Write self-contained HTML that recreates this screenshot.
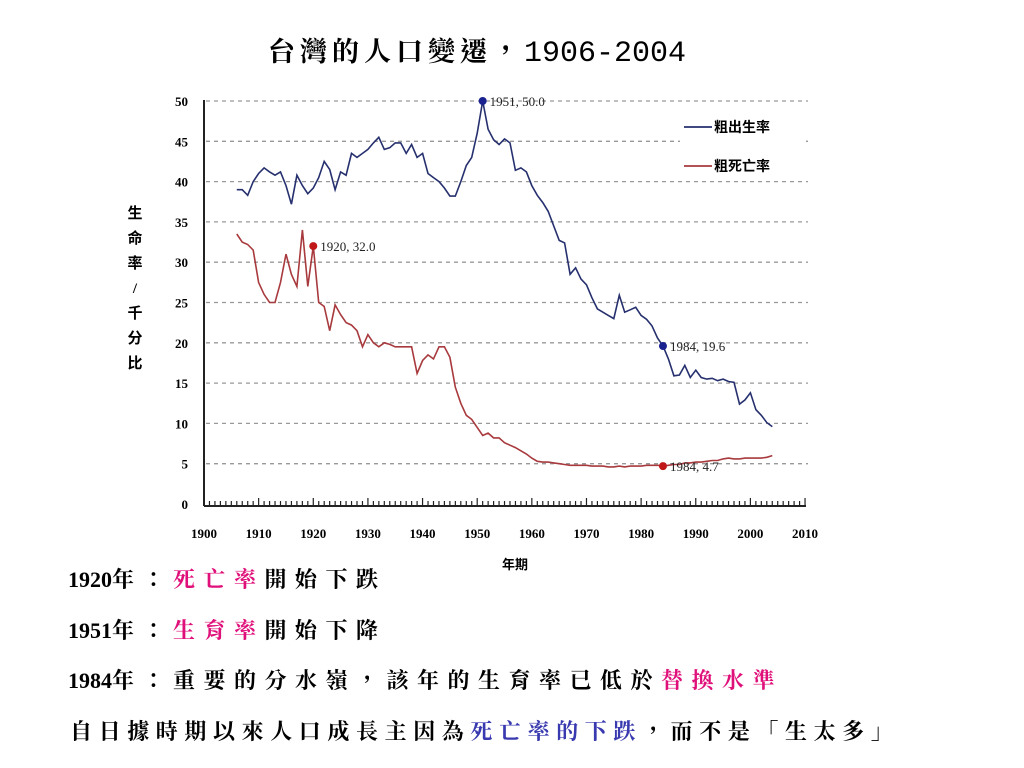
<!DOCTYPE html>
<html><head><meta charset="utf-8"><style>
body{margin:0;width:1024px;height:768px;background:#fff;overflow:hidden;position:relative;font-family:"Liberation Serif","Noto Serif CJK SC",serif}
.t{position:absolute;font-size:22px;color:#000;white-space:nowrap;letter-spacing:8.5px;font-weight:bold;font-family:"Liberation Serif","Noto Serif CJK TC","Noto Serif CJK SC",serif}
.t b{letter-spacing:0;font-size:22px}
.pk{color:#e0107a}.bl{color:#3a3ab0}
</style></head><body>
<div style="position:absolute;left:268px;top:30px;white-space:nowrap;font-size:27px;font-weight:bold;font-family:'Noto Serif CJK TC','Noto Serif CJK SC',serif;letter-spacing:5px">台灣的人口變遷，<span style="font-family:'Liberation Mono',monospace;font-size:30px;letter-spacing:0;font-weight:normal">1906-2004</span></div>
<svg id="ch" width="1024" height="768" style="position:absolute;left:0;top:0" font-family="Liberation Serif, Noto Sans CJK SC, serif"></svg>
<div class="t" style="left:68px;top:563px"><b>1920</b>年：<span class="pk">死亡率</span>開始下跌</div>
<div class="t" style="left:68px;top:614px"><b>1951</b>年：<span class="pk">生育率</span>開始下降</div>
<div class="t" style="left:68px;top:664px"><b>1984</b>年：重要的分水嶺，該年的生育率已低於<span class="pk">替換水準</span></div>
<div class="t" style="left:70px;top:715px;letter-spacing:6.6px">自日據時期以來人口成長主因為<span class="bl">死亡率的下跌</span>，而不是「生太多」</div>
<script>
const birthYears0=1906;
const birthRate=[39,39,38.3,40,41,41.7,41.2,40.8,41.2,39.5,37.2,40.8,39.5,38.5,39.2,40.5,42.5,41.5,39,41.2,40.8,43.5,43,43.5,44,44.8,45.5,44,44.2,44.8,44.8,43.5,44.6,43,43.5,41,40.5,40,39.2,38.2,38.2,40,42,43,46,50,46.5,45.2,44.6,45.3,44.8,41.4,41.7,41.2,39.5,38.3,37.4,36.3,34.5,32.7,32.4,28.5,29.3,27.9,27.2,25.6,24.2,23.8,23.4,23,25.9,23.8,24.1,24.4,23.4,22.9,22.1,20.6,19.6,18,15.9,16,17.2,15.7,16.6,15.7,15.5,15.6,15.3,15.5,15.2,15.1,12.4,12.9,13.8,11.7,11,10.1,9.6];
const deathRate=[33.5,32.5,32.2,31.5,27.5,26,25,25,27.5,31,28.5,27,34,27,32,25,24.5,21.5,24.7,23.5,22.5,22.2,21.5,19.5,21,20,19.5,20,19.8,19.5,19.5,19.5,19.5,16.2,17.8,18.5,18,19.5,19.5,18.2,14.5,12.5,11,10.5,9.5,8.5,8.8,8.2,8.2,7.6,7.3,7,6.6,6.2,5.7,5.3,5.2,5.2,5.1,5,4.9,4.8,4.8,4.8,4.8,4.7,4.7,4.7,4.6,4.6,4.7,4.6,4.7,4.7,4.7,4.8,4.8,4.8,4.7,4.8,4.9,4.9,5.1,5.1,5.2,5.2,5.3,5.4,5.4,5.6,5.7,5.6,5.6,5.7,5.7,5.7,5.7,5.8,6];
const xTicks=[1900,1910,1920,1930,1940,1950,1960,1970,1980,1990,2000,2010];
const yTicks=[0,5,10,15,20,25,30,35,40,45,50];
const markers=[{y:1951,v:50,s:'b',label:'1951, 50.0'},{y:1920,v:32,s:'d',label:'1920, 32.0'},{y:1984,v:19.6,s:'b',label:'1984, 19.6'},{y:1984,v:4.7,s:'d',label:'1984, 4.7'}];
const NS='http://www.w3.org/2000/svg',svg=document.getElementById('ch');
const X=y=>204+(y-1900)*5.464, Y=v=>504-v*8.06;
function mk(t,a,txt){const e=document.createElementNS(NS,t);for(const k in a)e.setAttribute(k,a[k]);if(txt!=null)e.textContent=txt;svg.appendChild(e);return e;}
yTicks.forEach(v=>{
 if(v>0){const g=mk('line',{x1:206,x2:808,y1:Y(v),y2:Y(v),stroke:'#999','stroke-dasharray':'4,4','stroke-width':1.3});
 
 }
 const t=mk('text',{x:188,y:Y(v)+5,'text-anchor':'end','font-size':13,'font-weight':'bold'},v);
 
 
});
const ax=mk('line',{x1:204,x2:204,y1:100,y2:506,stroke:'#222','stroke-width':2});


const bx=mk('line',{x1:204,x2:806,y1:506,y2:506,stroke:'#222','stroke-width':2});


for(let y=1900;y<=2010;y++){mk('line',{x1:X(y),x2:X(y),y1:506,y2:y%10?501:498,stroke:'#222','stroke-width':1.2});}
xTicks.forEach(y=>{const t=mk('text',{x:X(y),y:538,'text-anchor':'middle','font-size':13,'font-weight':'bold'},y);
 
 });
const xt=mk('text',{x:515,y:569,'text-anchor':'middle','font-size':13,'font-weight':'bold'},'年期');


'生命率/千分比'.split('').forEach((c,i)=>{const t=mk('text',{x:135,y:218+i*25,'text-anchor':'middle','font-size':15,'font-weight':'bold'},c);
 
 });
function line(arr,col,name){const p=arr.map((v,i)=>X(birthYears0+i).toFixed(1)+','+Y(v).toFixed(1)).join(' ');
 const l=mk('polyline',{points:p,fill:'none',stroke:col,'stroke-width':1.6});
 
 }
line(birthRate,'#26306e','birth-rate-line');
line(deathRate,'#a83a3e','death-rate-line');
markers.forEach(m=>{const c=m.s=='b'?'#1a2290':'#c01818';
 const d=mk('circle',{cx:X(m.y),cy:Y(m.v),r:4,fill:c});
 
 
 const t=mk('text',{x:X(m.y)+7,y:Y(m.v)+5,'font-size':13,fill:'#222'},m.label);
 
 });
mk('rect',{x:680,y:112,width:125,height:68,fill:'#fff'});
[['粗出生率','#26306e',127],['粗死亡率','#a83a3e',166]].forEach(([n,c,y])=>{
 const l=mk('line',{x1:684,x2:712,y1:y,y2:y,stroke:c,'stroke-width':1.8});
 
 
 const t=mk('text',{x:714,y:y+5,'font-size':14,'font-weight':'bold'},n);
 
 });
</script>
</body></html>
